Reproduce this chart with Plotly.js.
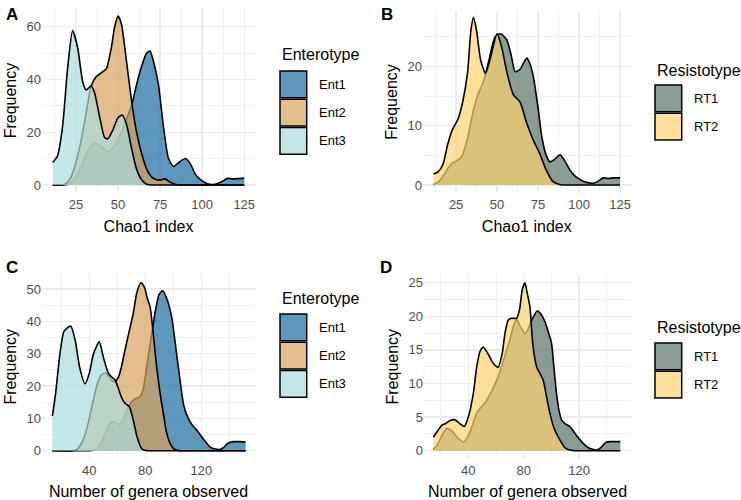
<!DOCTYPE html>
<html><head><meta charset="utf-8">
<script src="https://cdn.plot.ly/plotly-3.0.1.min.js"></script>
<style>html,body{margin:0;padding:0;background:#fff}</style>
</head><body><div id="chart" style="width:741px;height:500px"></div>
<script>
// ---------- Panel A: Chao1 index by enterotype ----------
const aEnt1X = [11.2,17,20,22,26,30,33,36.3,40,44,48,52,55,58,61,64,67,69,71,74,77,80,83,86,90,93,96,99,103,107,111,115,118,121,125];
const aEnt1Y = [0,0,0.2,1,4,10,14,16,14.5,12.6,15,20,25,30,38,45,50,50.8,47,38,22,10,7,8.5,10,8,4,2,0.5,0.2,1,2.5,2.3,2.4,2.6];
const aEnt2X = [11.2,15,18.5,22,25.4,29,32.3,34,37,40,43,46,48,50,52,55,58,61,64,67,70,73,76,78,81,84,87,95,110,125];
const aEnt2Y = [0,0,0.3,3,9.5,20,32,37.5,41,42.5,44,52,60,64,61,47,32,20,12,6,3,2,2,2.3,1,0.3,0,0,0,0];
const aEnt3X = [11.2,14,17,20,23,26,29,31,34,36,39,42,44,47,50,52.5,55,58,61,64,67,70,80,95,110,125];
const aEnt3Y = [8.5,11,22,44,58.5,52,39,36,37.5,35,26,18,17.5,21,25.5,26.5,23,14,6,2,0.3,0,0,0,0,0];

// ---------- Panel B: Chao1 index by resistotype ----------
const bRT1X = [11.2,14,17,20,22.4,25,28.5,32,35.6,38,41.6,45,48.8,52.2,55.9,58.5,61,64,68.1,70,72.1,75,77.3,80,82.3,85,88.4,91,94.5,98,103,108.7,112,114.8,118,121,125];
const bRT1Y = [0.1,0.5,1.5,2.8,3.7,4,4.8,8,12.6,15,17.4,21,25,25.5,24.5,22,19.1,19.5,21.4,20.5,18.3,13,8.1,5,3.9,4.3,5.1,4.2,2.5,1.4,0.6,0.3,0.7,1.2,1.1,1.2,1.2];
const bRT2X = [11.2,14,17,20,23,26,29,32,34,35.6,37.5,40,43,46,50,53,56,60,64,68,72,76,80,84,88,92,105,125];
const bRT2Y = [1.85,2.2,3.5,7,9.5,11,14,19,26,28.3,26,21,18.8,21.5,25.5,23,19,15.2,14,10.5,7.6,5.3,2.5,0.6,0.1,0,0,0];

// ---------- Panel C: genera observed by enterotype ----------
const cEnt1X = [13.6,30,40,45,48,51,54,57.1,59.5,61.9,64.5,67.9,71.4,74,76.2,78.5,81,84.6,87.5,90,92.4,95,98.8,101.5,104.8,107.5,110.7,113.5,116.7,120,123,126.2,130,133.4,136,139,142.9,147,151.7];
const cEnt1Y = [0,0,0,0.5,2,5,8,9,8.5,8,10,13.6,15.7,16.3,16.7,19,26,36.3,44,48.5,49.5,47.5,41.5,33,21.9,14,10,8,6.4,4.5,2.8,1.2,0.5,0.4,1,2.3,2.8,2.8,2.7];
const cEnt2X = [13.6,28,31,34,37,40,42.9,46,48.5,51.2,54,56,58.4,61,63,65.5,68,71.4,74,76.9,79.5,81.5,83.4,86,88.1,90.5,92.9,95,97.5,100,103,106,130,151.7];
const cEnt2Y = [0,0,0.3,2,5,10,15.7,21,23.5,24,23,21.8,21.4,23,26,31.2,36,42.5,49,52,50.5,47,44.6,35,26,18,11.6,6,2.5,0.7,0.1,0,0,0];
const cEnt3X = [13.6,16,19,22,26.7,30,33,36.9,40,43,47.1,50,53.6,56,58.4,61,63,65.5,68.6,71.4,74,77.4,80,83,110,151.7];
const cEnt3Y = [10.7,18,30,37,38.6,34,26,20.7,24,30,33.7,29,24,22.8,21.9,19,16.5,14.7,13.6,9.5,4.5,0.7,0.1,0,0,0];

// ---------- Panel D: genera observed by resistotype ----------
const dRT1X = [14.8,18,21,24.4,28,32,36.4,40,43,46.1,49,52,56,60.5,64,67,70.1,72.5,74.9,77.5,80.9,83,85.7,89.7,92.5,95.3,98,100.1,102,103.7,105.5,107.3,110,113.3,118,122.9,127,132.5,136,139,142.1,146,149.8];
const dRT1Y = [0.2,1,2.3,3.3,3,2,1.3,2.2,3.8,5.6,6.4,7.1,8.5,10.5,12.5,14.5,16.5,18.5,19.5,18.5,17.4,18,19.4,20.8,20.3,19.2,17.5,16,12,8.5,6,4.6,4,3.6,2.3,1.1,0.4,0.1,0.5,1.2,1.35,1.35,1.35];
const dRT2X = [14.8,18,21,23.2,27,30.4,34,37.1,40,43.6,46.1,48.5,50.8,54,58,61.6,64.5,66.5,68.8,71,74.9,77,79,80.9,82.5,84.5,86.5,89.3,94.1,96.5,98.9,102,106.1,110,113.3,117,130,149.8];
const dRT2Y = [2,3,3.8,4,4.5,4.6,4,3.6,5,8.5,12.5,14.8,15.4,14.5,13,12.4,14.5,17.5,19.4,19.7,19.7,21,24,25,23.5,21.4,16,12.5,10.5,8,5.6,3.3,1.6,0.4,0.1,0,0,0];

// ---------- categories / labels ----------
const enterotypes = ['Ent1','Ent2','Ent3'];
const resistotypes = ['RT1','RT2'];
const entColors = ['rgba(25,108,159,0.7)','rgba(216,162,91,0.7)','rgba(171,221,221,0.7)'];
const rtColors = ['rgba(88,114,102,0.7)','rgba(254,211,111,0.7)'];
const panelTags = ['A','B','C','D'];

const W = 741, H = 500;
const FONT = 'Liberation Sans, Arial, Helvetica, sans-serif';

function area(x, y, color, xa, ya) {
  return {type:'scatter', mode:'lines', x:x, y:y, xaxis:xa, yaxis:ya,
    fill:'tozeroy', fillcolor:color,
    line:{color:'#000000', width:1.6, shape:'spline', smoothing:0.6},
    showlegend:false, hoverinfo:'skip'};
}

const traces = [
  area(aEnt1X, aEnt1Y, entColors[0], 'x', 'y'),
  area(aEnt2X, aEnt2Y, entColors[1], 'x', 'y'),
  area(aEnt3X, aEnt3Y, entColors[2], 'x', 'y'),
  area(bRT1X, bRT1Y, rtColors[0], 'x2', 'y2'),
  area(bRT2X, bRT2Y, rtColors[1], 'x2', 'y2'),
  area(cEnt1X, cEnt1Y, entColors[0], 'x3', 'y3'),
  area(cEnt2X, cEnt2Y, entColors[1], 'x3', 'y3'),
  area(cEnt3X, cEnt3Y, entColors[2], 'x3', 'y3'),
  area(dRT1X, dRT1Y, rtColors[0], 'x4', 'y4'),
  area(dRT2X, dRT2Y, rtColors[1], 'x4', 'y4')
];

function xax(l, r, range, dtick, minor, title, anchor) {
  return {domain:[l/W, r/W], range:range, anchor:anchor, tick0:0, dtick:dtick,
    showgrid:true, gridcolor:'#EBEBEB', gridwidth:1.4,
    minor:{showgrid:true, tick0:0, dtick:minor, gridcolor:'#EBEBEB', gridwidth:0.7},
    zeroline:false, showline:false, ticks:'', ticklabelstandoff:2,
    tickfont:{size:13, color:'#4D4D4D', family:FONT},
    title:{text:title, font:{size:16, color:'#000', family:FONT}, standoff:9}};
}
function yax(top, bottom, range, dtick, minor, anchor) {
  return {domain:[1-bottom/H, 1-top/H], range:range, anchor:anchor, tick0:0, dtick:dtick,
    showgrid:true, gridcolor:'#EBEBEB', gridwidth:1.4,
    minor:{showgrid:true, tick0:0, dtick:minor, gridcolor:'#EBEBEB', gridwidth:0.7},
    zeroline:false, showline:false, ticks:'',
    tickfont:{size:13, color:'#4D4D4D', family:FONT},
    title:{text:'Frequency', font:{size:16, color:'#000', family:FONT}, standoff:5}};
}

const shapes = [], annotations = [];
function legend(title, names, colors, left, titleY, firstTop) {
  annotations.push({xref:'paper', yref:'paper', x:left/W, y:1-titleY/H, xanchor:'left', yanchor:'middle',
    text:title, showarrow:false, font:{size:16, color:'#000', family:FONT}});
  names.forEach((n, i) => {
    const t = firstTop + i*28.3, b = t + 26.7;
    shapes.push({type:'rect', xref:'paper', yref:'paper', x0:left/W, x1:(left+26.7)/W,
      y0:1-b/H, y1:1-t/H, fillcolor:colors[i], line:{color:'#000', width:1.5}});
    annotations.push({xref:'paper', yref:'paper', x:(left+36.5)/W, y:1-(t+13.3)/H, xanchor:'left', yanchor:'middle',
      text:n, showarrow:false, font:{size:13, color:'#000', family:FONT}});
  });
}
legend('Enterotype', enterotypes, entColors, 280, 55, 71);
legend('Resistotype', resistotypes, rtColors, 655, 70, 85);
legend('Enterotype', enterotypes, entColors, 280, 298, 314);
legend('Resistotype', resistotypes, rtColors, 655, 327, 343);

const tagPos = [[4,14],[379,14],[4,267],[378,267]];
panelTags.forEach((t, i) => {
  annotations.push({xref:'paper', yref:'paper', x:tagPos[i][0]/W, y:1-tagPos[i][1]/H, xanchor:'left', yanchor:'middle',
    text:'<b>'+t+'</b>', showarrow:false, font:{size:17, color:'#000', family:FONT}});
});

const layout = {
  width:W, height:H, margin:{l:0, r:0, t:0, b:0},
  paper_bgcolor:'#fff', plot_bgcolor:'#fff', showlegend:false,
  font:{family:FONT},
  xaxis: xax(42, 255, [4.8, 131.4], 25, 12.5, 'Chao1 index', 'y'),
  yaxis: yax(7.7, 193.4, [-3.2, 67.2], 20, 10, 'x'),
  xaxis2: xax(423, 630.5, [4.8, 131.4], 25, 12.5, 'Chao1 index', 'y2'),
  yaxis2: yax(10.7, 193.3, [-1.4, 29.4], 10, 5, 'x2'),
  xaxis3: xax(42, 255, [6.2, 158.4], 40, 20, 'Number of genera observed', 'y3'),
  yaxis3: yax(274.3, 459.1, [-2.6, 54.6], 10, 5, 'x3'),
  xaxis4: xax(424, 631, [8, 157.5], 40, 20, 'Number of genera observed', 'y4'),
  yaxis4: yax(274.3, 459.1, [-1.25, 26.25], 5, 2.5, 'x4'),
  shapes:shapes, annotations:annotations
};

Plotly.newPlot('chart', traces, layout, {staticPlot:true, displayModeBar:false});
</script></body></html>
